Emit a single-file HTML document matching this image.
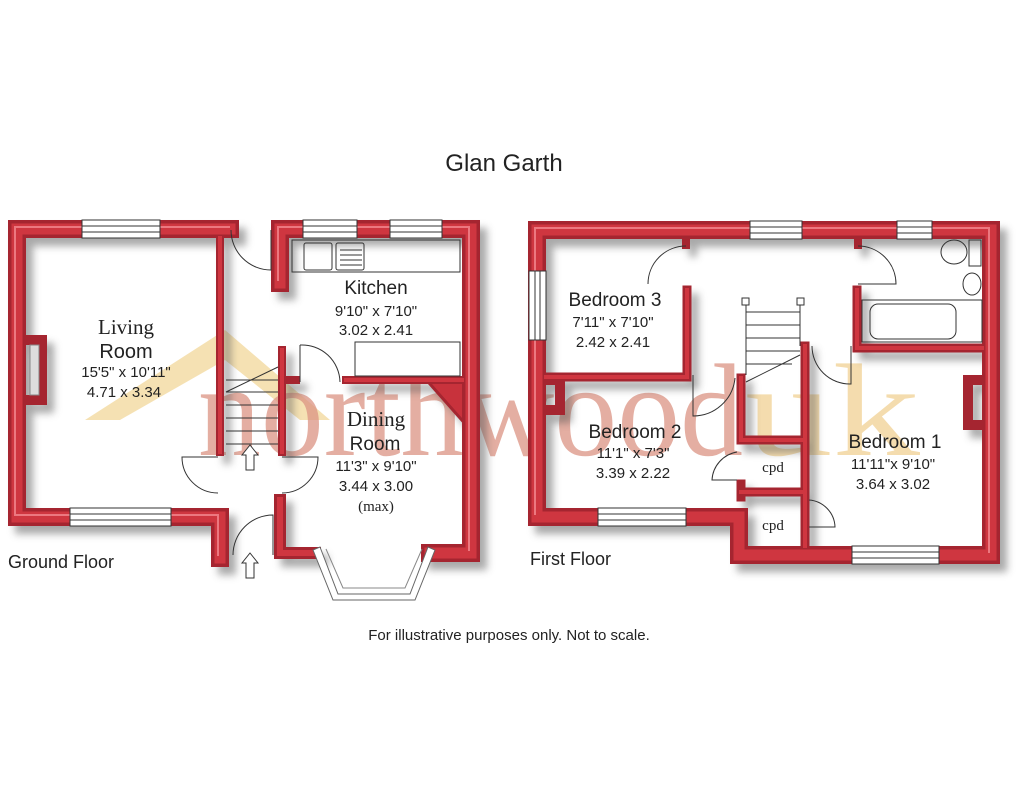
<!DOCTYPE html>
<html><head><meta charset="utf-8"><style>
html,body{margin:0;padding:0;background:#fff;}
svg{display:block;}
.t{font-family:"Liberation Sans",sans-serif;fill:#222;white-space:pre;}
.s{font-family:"Liberation Serif",serif;fill:#222;white-space:pre;}
</style></head><body>
<svg width="1024" height="797" viewBox="0 0 1024 797" xmlns="http://www.w3.org/2000/svg" xml:space="preserve">
<defs>
<filter id="sh" x="-10%" y="-10%" width="120%" height="120%"><feGaussianBlur stdDeviation="4"/></filter>
<g id="walls" fill="none" stroke-linejoin="miter" stroke-linecap="square">
 <path d="M230,229 H17 V517 H220 V558" stroke-width="18"/>
 <path d="M27,340 H42 V400 H27" stroke-width="10" />
 <path d="M220,238 V452" stroke-width="8"/>
 <path d="M280,283 V229 H471 V553 H430" stroke-width="18"/>
 <path d="M280,500 V553 H315" stroke-width="12"/>
 <path d="M282,350 V452 M282,380 H296" stroke-width="8"/>
 <path d="M346,380 H462" stroke-width="8"/>
 <path d="M432,384 L462,418 V384 Z" stroke-width="6"/>
 <path d="M537,230 H991 V555 H739 V517 H537 Z" stroke-width="18"/>
 <path d="M546,380 H560 V410 H546" stroke-width="10"/>
 <path d="M982,380 H968 V425 H982" stroke-width="10"/>
 <path d="M687,290 V377 H546" stroke-width="9"/>
 <path d="M741,378 V440 H805 M805,346 V546 M741,492 H805 M741,484 V497" stroke-width="9"/>
 <path d="M857,290 V348 H982" stroke-width="9"/>
 <path d="M686,239 V245 M858,239 V245 M805,546 V540" stroke-width="8"/>
</g>
</defs>

<text x="504" y="171" text-anchor="middle" class="t" font-size="24">Glan Garth</text>

<path d="M85,420 L225,330 L330,420 L300,420 L225,360 L120,420 Z" fill="#f3d9a0" opacity="0.8"/>
<text x="198" y="455" font-family="Liberation Serif, serif" font-size="132" textLength="545" lengthAdjust="spacingAndGlyphs" style="fill:#dc9484;opacity:0.75">northwood</text>
<text x="745" y="455" font-family="Liberation Serif, serif" font-size="132" textLength="175" lengthAdjust="spacingAndGlyphs" style="fill:#f3d7a0;opacity:0.85">uk</text>

<g transform="translate(7,8)" filter="url(#sh)" opacity="0.5"><use href="#walls" stroke="#555"/></g>

<use href="#walls" stroke="#a52530"/>
<g fill="none" stroke="#cf3640" stroke-linejoin="miter" stroke-linecap="square">
 <path d="M230,229 H17 V517 H220 V558" stroke-width="11"/>
 <path d="M280,283 V229 H471 V553 H430" stroke-width="11"/>
 <path d="M280,500 V553 H315" stroke-width="6"/>
 <path d="M537,230 H991 V555 H739 V517 H537 Z" stroke-width="11"/>
 <path d="M220,238 V452 M282,350 V452 M346,380 H462 M687,290 V377 H546 M741,378 V440 H805 M805,346 V546 M741,492 H805 M857,290 V348 H982" stroke-width="4"/>
</g>
<path d="M432,384 L462,418 V384 Z" fill="#c8323c"/>
<g fill="none" stroke="#ec7880" stroke-width="2">
 <path d="M230,227 H15 V515 H218 V556"/>
 <path d="M278,281 V227 H469 V551"/>
 <path d="M535,515 V228 H989 V553"/>
</g>

<g fill="none" stroke="#333" stroke-width="1">
 <rect x="292" y="240" width="168" height="32"/>
 <rect x="304" y="243" width="28" height="27" rx="2"/><rect x="336" y="243" width="28" height="27" rx="2"/>
 <path d="M340,250 H362 M340,255 H362 M340,260 H362 M340,265 H362"/>
 <rect x="355" y="342" width="105" height="34" fill="#fff"/>
 <rect x="30" y="345" width="9" height="50" fill="#ddd" stroke="#888"/>
 <path d="M226,392 H278 M226,405 H278 M226,418 H278 M226,431 H278 M226,444 H278 M226,392 L278,367 M226,380 L278,380"/>
 <path d="M246,470 V455 H242 L250,445 L258,455 H254 V470 Z" fill="#fff"/>
 <path d="M246,578 V563 H242 L250,553 L258,563 H254 V578 Z" fill="#fff"/>
 <path d="M231,230 A40,40 0 0 0 271,270 V230"/>
 <path d="M300,345 A38,38 0 0 1 340,382"/><path d="M300,345 V382"/>
 <path d="M218,457 H182 A36,36 0 0 0 218,493"/>
 <path d="M282,457 H318 A36,36 0 0 1 282,493"/>
 <path d="M233,555 A40,40 0 0 1 273,515 V555"/>
 <path d="M313,550 L333,600 H415 L435,550 L428,547 L410,594 H338 L320,547 Z" fill="#fff" stroke="#666"/>
 <path d="M326,549 L343,588 H405 L422,549" stroke="#888"/>
 <rect x="82" y="220" width="78" height="18" fill="#fff"/><path d="M82,226 H160 M82,232 H160"/>
 <rect x="70" y="508" width="101" height="18" fill="#fff"/><path d="M70,514 H171 M70,520 H171"/>
 <rect x="303" y="220" width="54" height="18" fill="#fff"/><path d="M303,226 H357 M303,232 H357"/>
 <rect x="390" y="220" width="52" height="18" fill="#fff"/><path d="M390,226 H442 M390,232 H442"/>
 <rect x="750" y="221" width="52" height="18" fill="#fff"/><path d="M750,227 H802 M750,233 H802"/>
 <rect x="897" y="221" width="35" height="18" fill="#fff"/><path d="M897,227 H932 M897,233 H932"/>
 <rect x="529" y="271" width="17" height="69" fill="#fff"/><path d="M535,271 V340 M540,271 V340"/>
 <rect x="598" y="508" width="88" height="18" fill="#fff"/><path d="M598,514 H686 M598,520 H686"/>
 <rect x="852" y="546" width="87" height="18" fill="#fff"/><path d="M852,552 H939 M852,558 H939"/>
 <path d="M686,246 A38,38 0 0 0 648,284"/>
 <path d="M858,246 A38,38 0 0 1 896,284 H858"/>
 <path d="M693,375 V416 A42,42 0 0 0 735,378"/>
 <path d="M812,346 A38,38 0 0 0 851,384 V346"/>
 <path d="M737,452 A30,30 0 0 0 712,480 H737"/>
 <path d="M809,500 A28,28 0 0 1 835,527 H809"/>
 <path d="M746,302 V375 M800,302 V346 M746,312 H800 M746,325 H800 M746,338 H800 M746,351 H800 M746,364 H792 M746,382 L800,355"/>
 <rect x="742" y="298" width="7" height="7" fill="#fff"/><rect x="797" y="298" width="7" height="7" fill="#fff"/>
 <rect x="862" y="300" width="120" height="42"/><rect x="870" y="304" width="86" height="35" rx="8"/>
 <ellipse cx="954" cy="252" rx="13" ry="12"/><rect x="969" y="240" width="12" height="26"/>
 <ellipse cx="972" cy="284" rx="9" ry="11"/>
</g>

<g class="s" font-size="21" text-anchor="middle"><text x="126" y="334">Living</text><text x="376" y="426">Dining</text></g>
<g class="t" text-anchor="middle">
 <text x="126" y="358" font-size="20">Room</text>
 <text x="126" y="377" font-size="15">15'5" x 10'11"</text>
 <text x="124" y="397" font-size="15">4.71  x  3.34</text>
 <text x="376" y="294" font-size="19">Kitchen</text>
 <text x="376" y="316" font-size="15">9'10"  x  7'10"</text>
 <text x="376" y="335" font-size="15">3.02  x  2.41</text>
 <text x="375" y="450" font-size="19">Room</text>
 <text x="376" y="471" font-size="15">11'3"  x  9'10"</text>
 <text x="376" y="491" font-size="15">3.44  x  3.00</text>
 <text x="615" y="306" font-size="19">Bedroom 3</text>
 <text x="613" y="327" font-size="15">7'11"  x  7'10"</text>
 <text x="613" y="347" font-size="15">2.42  x  2.41</text>
 <text x="635" y="438" font-size="19">Bedroom 2</text>
 <text x="633" y="458" font-size="15">11'1"  x  7'3"</text>
 <text x="633" y="478" font-size="15">3.39  x  2.22</text>
 <text x="895" y="448" font-size="19">Bedroom 1</text>
 <text x="893" y="469" font-size="15">11'11"x  9'10"</text>
 <text x="893" y="489" font-size="15">3.64  x  3.02</text>
</g>
<g class="s" text-anchor="middle" font-size="15"><text x="376" y="511">(max)</text><text x="773" y="472">cpd</text><text x="773" y="530">cpd</text></g>
<text x="8" y="568" class="t" font-size="18">Ground Floor</text>
<text x="530" y="565" class="t" font-size="18">First Floor</text>
<text x="509" y="640" text-anchor="middle" class="t" font-size="15">For illustrative purposes only. Not to scale.</text>
</svg>
</body></html>
